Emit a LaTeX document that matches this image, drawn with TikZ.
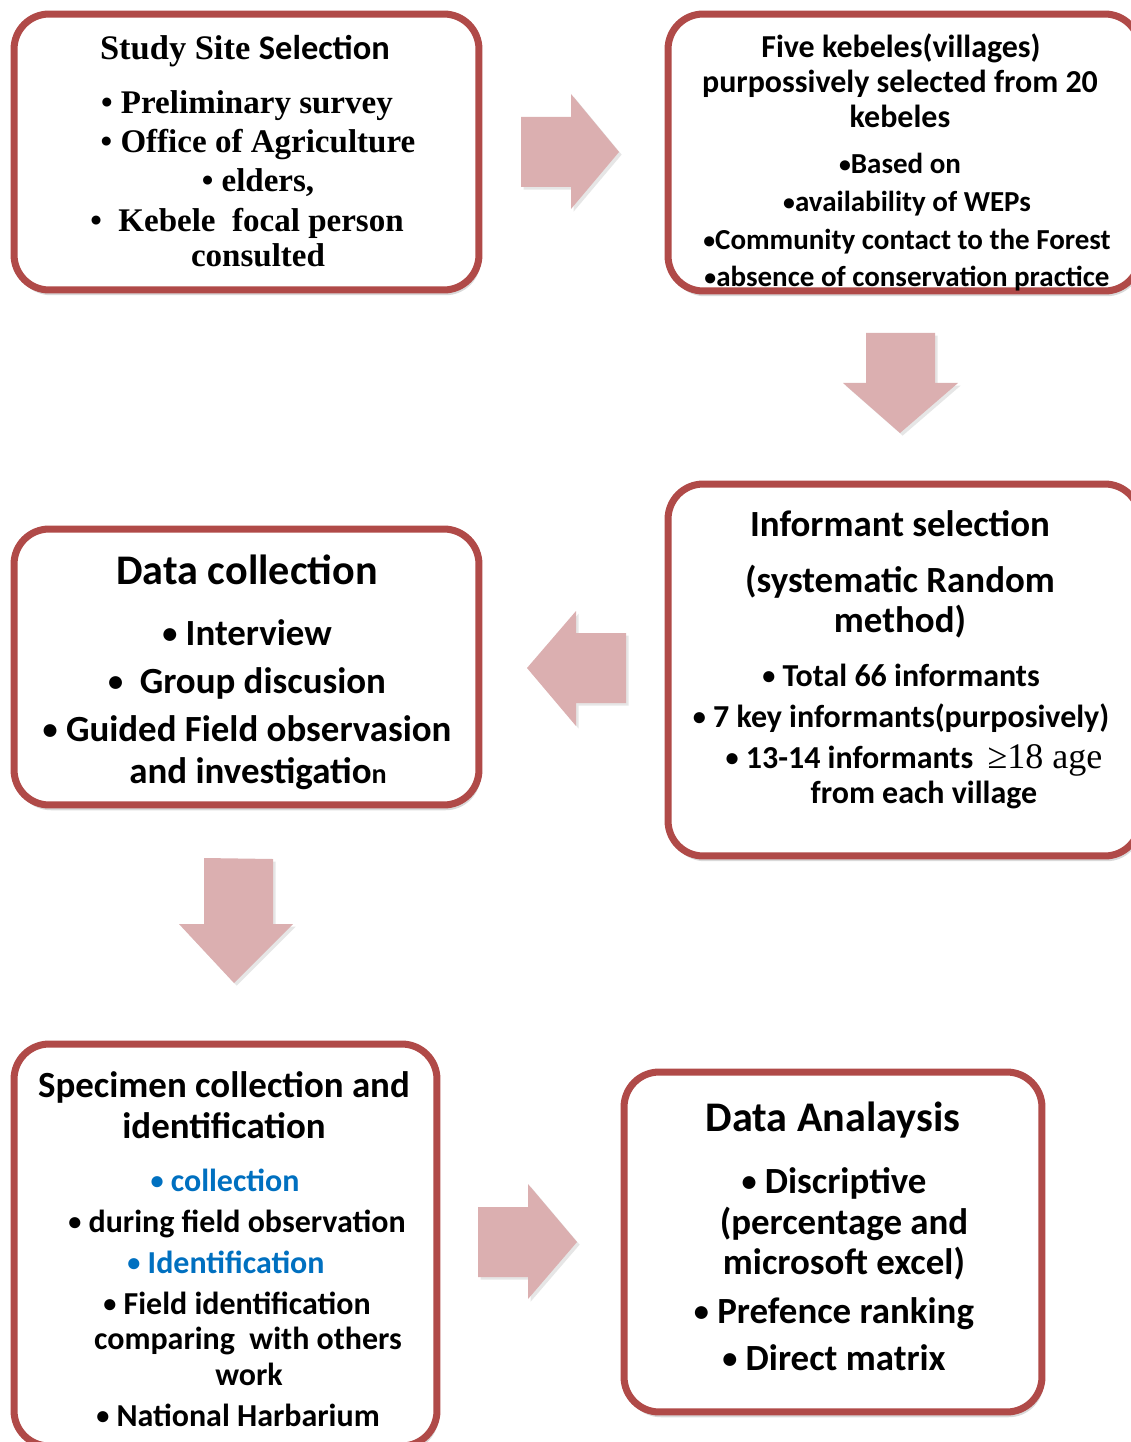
\documentclass[tikz,border=0pt]{standalone}
\usepackage{fontspec}
\usepackage{graphicx}
\setmainfont{Carlito}
\newfontfamily\cambfont{Liberation Serif}
\usetikzlibrary{shadows}
\definecolor{boxred}{RGB}{176,74,72}
\definecolor{arrowpink}{RGB}{219,175,176}
\definecolor{bulletblue}{RGB}{0,112,192}
\newcommand\bul{\raisebox{0.04em}{\scalebox{0.82}{•}}}
\tikzset{
	stepframe/.style={draw=boxred, line width=4pt, fill=white, rounded corners=20pt,
		drop shadow={shadow xshift=1pt, shadow yshift=-3pt, opacity=0.3}},
	blockarrow/.style={fill=arrowpink,
		drop shadow={shadow xshift=1.5pt, shadow yshift=-1.5pt, opacity=0.2}},
	serifline/.style={anchor=mid, inner sep=0pt, font=\cambfont\bfseries\fontsize{18.8pt}{22pt}\selectfont},
	tinyline/.style={anchor=mid, inner sep=0pt, font=\bfseries\fontsize{16.5pt}{20pt}\selectfont},
	smallline/.style={anchor=mid, inner sep=0pt, font=\bfseries\fontsize{18.2pt}{22pt}\selectfont},
	midline/.style={anchor=mid, inner sep=0pt, font=\bfseries\fontsize{21pt}{25pt}\selectfont},
	bigline/.style={anchor=mid, inner sep=0pt, font=\bfseries\fontsize{24pt}{28pt}\selectfont},
}

\begin{document}
\begin{tikzpicture}[x=0.02cm, y=-0.02cm]
		%%%%% START %%%%%
		\clip (0, 0) rectangle (1131, 1442);
		
		%%%%% ARROWS %%%%%
		\fill[blockarrow] (521, 117) -- (571, 117) -- (571, 94) -- (619, 152) -- (571, 209) -- (571, 187) -- (521, 187) -- cycle;
		\fill[blockarrow] (866, 333) -- (935, 333) -- (935, 383) -- (958, 383) -- (900, 433) -- (843, 383) -- (866, 383) -- cycle;
		\fill[blockarrow] (626, 633) -- (576, 633) -- (576, 611) -- (527, 668) -- (576, 726) -- (576, 703) -- (626, 703) -- cycle;
		\fill[blockarrow] (204, 858) -- (273, 859) -- (273, 924) -- (293, 924) -- (234, 983) -- (179, 924) -- (204, 924) -- cycle;
		\fill[blockarrow] (478, 1207) -- (528, 1207) -- (528, 1184) -- (577, 1242) -- (528, 1299) -- (528, 1277) -- (478, 1277) -- cycle;
		
		%%%%% FRAMES %%%%%
		\node[stepframe, minimum width=9.3cm, minimum height=5.52cm] (site) at (246.5, 152) {};
		\node[stepframe, minimum width=9.44cm, minimum height=5.54cm] (kebele) at (904, 152.5) {};
		\node[stepframe, minimum width=9.44cm, minimum height=7.44cm] (informant) at (904, 670) {};
		\node[stepframe, minimum width=9.3cm, minimum height=5.52cm] (collect) at (246.5, 667) {};
		\node[stepframe, minimum width=8.46cm, minimum height=8.04cm] (specimen) at (225.5, 1245) {};
		\node[stepframe, minimum width=8.36cm, minimum height=6.8cm] (analysis) at (833, 1242) {};
		
		%%%%% STUDY SITE %%%%%
		\node[serifline, font=\cambfont\bfseries\fontsize{19.6pt}{22pt}\selectfont] (site1) at (245, 55) {Study Site {\rmfamily Selection}};
		\node[serifline] (site2) at (247, 109) {• Preliminary survey};
		\node[serifline] (site3) at (258, 148) {• Office of Agriculture};
		\node[serifline] (site4) at (258, 187) {• elders,};
		\node[serifline] (site5) at (247, 227) {•\ \ Kebele\ \ focal person};
		\node[serifline] (site6) at (258, 262) {consulted};
		
		%%%%% KEBELES %%%%%
		\node[smallline] (keb1) at (901, 53) {Five kebeles(villages)};
		\node[smallline] (keb2) at (900, 88) {purpossively selected from 20};
		\node[smallline] (keb3) at (900, 123) {kebeles};
		\node[tinyline] (keb4) at (900, 169) {\bul Based on};
		\node[tinyline] (keb5) at (907, 207) {\bul availability of WEPs};
		\node[tinyline] (keb6) at (907, 245) {\bul Community contact to the Forest};
		\node[tinyline] (keb7) at (907, 282) {\bul absence of conservation practice};
		
		%%%%% INFORMANTS %%%%%
		\node[midline] (inf1) at (900, 532) {Informant selection};
		\node[midline] (inf2) at (900, 588) {(systematic Random};
		\node[midline] (inf3) at (900, 628) {method)};
		\node[smallline] (inf4) at (901, 682) {\bul\ Total 66 informants};
		\node[smallline] (inf5) at (901, 723) {\bul\ 7 key informants(purposively)};
		\node[smallline] (inf6) at (914, 764) {\bul\ 13-14 informants\ \ {\cambfont\mdseries\fontsize{20.5pt}{22pt}\selectfont ≥18 age}};
		\node[smallline] (inf7) at (924, 799) {from each village};
		
		%%%%% DATA COLLECTION %%%%%
		\node[bigline] (col1) at (247, 580) {Data collection};
		\node[midline] (col2) at (247, 641) {\bul\ Interview};
		\node[midline] (col3) at (247, 689) {\bul\ \ Group discusion};
		\node[midline] (col4) at (247, 737) {\bul\ Guided Field observasion};
		\node[midline] (col5) at (258, 779) {and investigatio{\fontsize{16pt}{18pt}\selectfont n}};
		
		%%%%% SPECIMEN %%%%%
		\node[midline] (spe1) at (224, 1093) {Specimen collection and};
		\node[midline] (spe2) at (224, 1134) {identification};
		\node[smallline, text=bulletblue] (spe3) at (225, 1187) {\bul\ collection};
		\node[smallline] (spe4) at (237, 1228) {\bul\ during field observation};
		\node[smallline, text=bulletblue] (spe5) at (226, 1269) {\bul\ Identification};
		\node[smallline] (spe6) at (237, 1310) {\bul\ Field identification};
		\node[smallline] (spe7) at (248, 1345) {comparing\ \ with others};
		\node[smallline] (spe8) at (249, 1381) {work};
		\node[smallline] (spe9) at (238, 1422) {\bul\ National Harbarium};
		
		%%%%% ANALYSIS %%%%%
		\node[bigline] (ana1) at (833, 1127) {Data Analaysis};
		\node[midline] (ana2) at (834, 1189) {\bul\ Discriptive};
		\node[midline] (ana3) at (844, 1230) {(percentage and};
		\node[midline] (ana4) at (844, 1270) {microsoft excel)};
		\node[midline] (ana5) at (834, 1319) {\bul\ Prefence ranking};
		\node[midline] (ana6) at (834, 1366) {\bul\ Direct matrix};
		
		%%%%% END %%%%%
\end{tikzpicture}
\end{document}
